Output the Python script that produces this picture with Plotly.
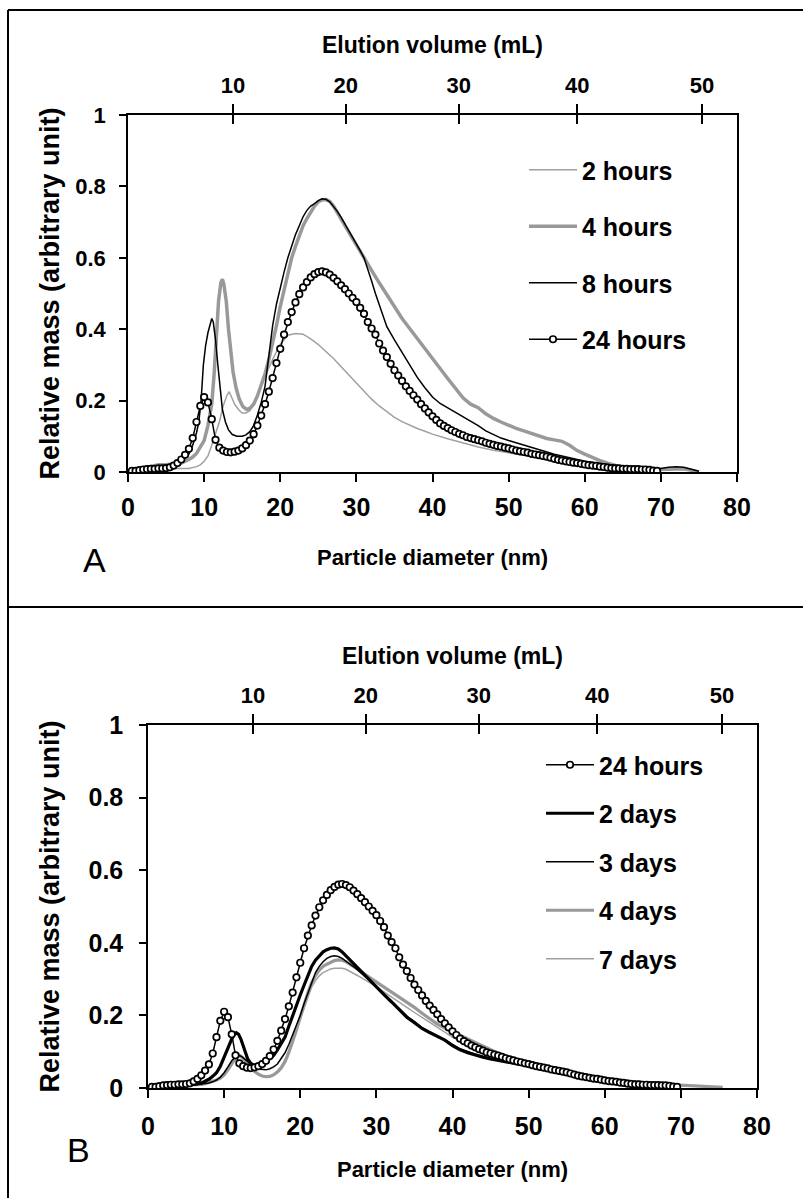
import plotly.graph_objects as go

# ---------------- data: particle diameter (nm) vs relative mass ----------------
# Panel A
D_2H = [1, 2, 3, 4, 5, 6, 7, 8, 9, 9.5, 10, 10.5, 11, 11.5, 12, 12.5, 13, 13.3, 13.7, 14, 14.5, 15, 15.5,
        16, 16.5, 17, 17.5, 18, 19, 20, 21, 22, 23, 24, 25, 26, 27, 28, 29, 30, 31, 32, 33, 34, 35, 36, 37,
        38, 39, 40, 42, 44, 46, 48, 50, 52, 54, 56, 58, 60, 62, 64, 66, 68]
V_2H = [0.005, 0.008, 0.01, 0.01, 0.01, 0.01, 0.01, 0.01, 0.015, 0.02, 0.03, 0.045, 0.075, 0.11, 0.14,
        0.185, 0.215, 0.225, 0.205, 0.19, 0.175, 0.165, 0.165, 0.172, 0.19, 0.212, 0.24, 0.267, 0.315,
        0.358, 0.383, 0.388, 0.386, 0.373, 0.357, 0.338, 0.318, 0.295, 0.272, 0.247, 0.225, 0.204, 0.185,
        0.168, 0.153, 0.141, 0.131, 0.122, 0.114, 0.106, 0.093, 0.081, 0.07, 0.061, 0.054, 0.046, 0.039,
        0.031, 0.025, 0.018, 0.013, 0.009, 0.007, 0.004]

D_4H = [1, 2, 3, 4, 5, 6, 7, 8, 8.5, 9, 9.5, 10, 10.5, 11, 11.3, 11.6, 11.9, 12.2, 12.4, 12.6, 12.9, 13.2,
        13.5, 13.8, 14.2, 14.6, 15.1, 15.6, 16, 16.5, 17, 17.5, 18, 18.5, 19, 19.5, 20, 20.5, 21, 21.5, 22,
        22.5, 23, 23.5, 24, 24.5, 25, 25.5, 26, 26.5, 27, 27.5, 28, 28.5, 29, 30, 31, 32, 33, 34, 35, 36,
        37, 38, 39, 40, 41, 42, 43, 44, 45, 46, 47, 48, 49, 50, 51, 52, 53, 54, 55, 56, 57, 58, 59, 60, 61,
        62, 63, 64, 65, 66, 67, 68, 69, 70, 71, 72, 73, 74, 75]
V_4H = [0.005, 0.01, 0.015, 0.02, 0.02, 0.022, 0.025, 0.035, 0.042, 0.052, 0.068, 0.088, 0.13, 0.19, 0.27,
        0.38, 0.48, 0.53, 0.54, 0.525, 0.48, 0.40, 0.33, 0.28, 0.235, 0.205, 0.183, 0.175, 0.178, 0.19,
        0.213, 0.242, 0.275, 0.315, 0.358, 0.41, 0.463, 0.51, 0.56, 0.6, 0.632, 0.663, 0.69, 0.71, 0.728,
        0.745, 0.757, 0.762, 0.763, 0.758, 0.745, 0.728, 0.708, 0.69, 0.672, 0.635, 0.6, 0.565, 0.53,
        0.496, 0.463, 0.43, 0.402, 0.373, 0.345, 0.318, 0.29, 0.262, 0.235, 0.208, 0.19, 0.18, 0.163,
        0.15, 0.14, 0.13, 0.122, 0.115, 0.108, 0.1, 0.094, 0.09, 0.086, 0.075, 0.06, 0.05, 0.04, 0.032,
        0.025, 0.018, 0.013, 0.009, 0.007, 0.006, 0.006, 0.007, 0.009, 0.01, 0.009, 0.005, 0.0]

D_8H = [1, 2, 3, 4, 5, 6, 7, 7.5, 8, 8.5, 9, 9.3, 9.6, 9.9, 10.2, 10.5, 10.8, 11.0, 11.2, 11.5, 11.8, 12.1,
        12.4, 12.8, 13.2, 13.7, 14.3, 15, 15.5, 16, 16.5, 17, 17.5, 18, 18.5, 19, 19.5, 20, 20.5, 21, 21.5,
        22, 22.5, 23, 23.5, 24, 24.5, 25, 25.5, 26, 26.5, 27, 27.5, 28, 28.5, 29, 29.5, 30, 30.5, 31, 31.5,
        32, 32.5, 33, 33.5, 34, 35, 36, 37, 38, 39, 40, 41, 42, 43, 44, 45, 46, 47, 48, 49, 50, 52, 54, 56,
        58, 60, 62, 64, 66, 68, 70, 71, 72, 73, 74, 75]
V_8H = [0.005, 0.008, 0.01, 0.012, 0.013, 0.018, 0.03, 0.04, 0.05, 0.075, 0.11, 0.14, 0.2, 0.3, 0.355,
        0.39, 0.42, 0.43, 0.42, 0.37, 0.3, 0.23, 0.175, 0.14, 0.118, 0.105, 0.1, 0.1, 0.104, 0.113, 0.13,
        0.16, 0.195, 0.24, 0.32, 0.41, 0.47, 0.52, 0.56, 0.6, 0.635, 0.665, 0.69, 0.715, 0.733, 0.745,
        0.752, 0.76, 0.765, 0.764, 0.757, 0.745, 0.73, 0.713, 0.695, 0.678, 0.66, 0.64, 0.62, 0.6, 0.57,
        0.535, 0.5, 0.47, 0.44, 0.407, 0.37, 0.335, 0.3, 0.265, 0.236, 0.21, 0.192, 0.18, 0.168, 0.155,
        0.143, 0.13, 0.115, 0.105, 0.095, 0.088, 0.075, 0.062, 0.05, 0.04, 0.03, 0.024, 0.018, 0.013,
        0.01, 0.01, 0.013, 0.015, 0.013, 0.007, 0.002]

# 24 hours (shared by both panels)
D_24H = [0.5, 1, 1.5, 2, 2.5, 3, 3.5, 4, 4.5, 5, 5.5, 6, 6.5, 7, 7.5, 8, 8.5, 9, 9.5, 10, 10.5, 11, 11.5,
         12, 12.5, 13, 13.5, 14, 14.5, 15, 15.5, 16, 16.5, 17, 17.5, 18, 18.5, 19, 19.5, 20, 20.5, 21, 21.5,
         22, 22.5, 23, 23.5, 24, 24.5, 25, 25.5, 26, 26.5, 27, 27.5, 28, 28.5, 29, 29.5, 30, 30.5, 31, 31.5,
         32, 32.5, 33, 33.5, 34, 34.5, 35, 35.5, 36, 36.5, 37, 37.5, 38, 38.5, 39, 39.5, 40, 40.5, 41, 41.5,
         42, 42.5, 43, 43.5, 44, 44.5, 45, 45.5, 46, 46.5, 47, 47.5, 48, 48.5, 49, 49.5, 50, 50.5, 51, 51.5,
         52, 52.5, 53, 53.5, 54, 54.5, 55, 55.5, 56, 56.5, 57, 57.5, 58, 58.5, 59, 59.5, 60, 60.5, 61, 61.5,
         62, 62.5, 63, 63.5, 64, 64.5, 65, 65.5, 66, 66.5, 67, 67.5, 68, 68.5, 69, 69.5]
V_24H = [0.003, 0.003, 0.005, 0.007, 0.008, 0.009, 0.009, 0.01, 0.01, 0.011, 0.013, 0.018, 0.025, 0.035,
         0.048, 0.065, 0.095, 0.14, 0.185, 0.21, 0.195, 0.148, 0.09, 0.068, 0.06, 0.056, 0.055, 0.057, 0.06,
         0.066, 0.075, 0.088, 0.106, 0.13, 0.158, 0.19, 0.225, 0.263, 0.305, 0.345, 0.385, 0.42, 0.448,
         0.475, 0.498, 0.517, 0.532, 0.545, 0.554, 0.56, 0.562, 0.559, 0.553, 0.544, 0.534, 0.523, 0.512,
         0.5, 0.488, 0.476, 0.46, 0.443, 0.42, 0.402, 0.385, 0.36, 0.34, 0.322, 0.303, 0.285, 0.27, 0.255,
         0.24, 0.227, 0.215, 0.203, 0.19, 0.178, 0.167, 0.156, 0.146, 0.136, 0.129, 0.123, 0.117, 0.112,
         0.107, 0.103, 0.098, 0.095, 0.092, 0.089, 0.086, 0.082, 0.079, 0.076, 0.073, 0.071, 0.068, 0.066,
         0.063, 0.06, 0.058, 0.056, 0.054, 0.051, 0.049, 0.047, 0.045, 0.043, 0.04, 0.037, 0.034, 0.032,
         0.03, 0.028, 0.026, 0.025, 0.023, 0.021, 0.019, 0.018, 0.017, 0.015, 0.014, 0.012, 0.011, 0.01,
         0.01, 0.009, 0.009, 0.008, 0.008, 0.008, 0.007, 0.007, 0.006, 0.004, 0.003]

# Panel B
D_2D = [1, 2, 3, 4, 5, 6, 7, 7.5, 8, 8.5, 9, 9.5, 10, 10.5, 11, 11.3, 11.6, 11.9, 12.2, 12.5, 12.8, 13.1,
        13.5, 14, 14.5, 15, 15.5, 16, 16.5, 17, 17.5, 18, 18.5, 19, 19.5, 20, 20.5, 21, 21.5, 22, 22.5, 23,
        23.5, 24, 24.5, 25, 25.5, 26, 26.5, 27, 27.5, 28, 28.5, 29, 29.5, 30, 31, 32, 33, 34, 35, 36, 37,
        38, 39, 40, 41, 42, 43, 44, 45, 46, 47, 48, 49, 50, 52, 54, 56, 58, 60, 62, 64, 66, 68, 69.5]
V_2D = [0.005, 0.006, 0.007, 0.007, 0.008, 0.01, 0.013, 0.018, 0.024, 0.032, 0.042, 0.06, 0.083, 0.11,
        0.135, 0.147, 0.152, 0.148, 0.135, 0.115, 0.096, 0.08, 0.068, 0.061, 0.06, 0.064, 0.072, 0.08, 0.09,
        0.105, 0.122, 0.14, 0.17, 0.2, 0.228, 0.256, 0.283, 0.31, 0.335, 0.352, 0.365, 0.375, 0.381, 0.385,
        0.386, 0.383, 0.375, 0.364, 0.355, 0.343, 0.332, 0.32, 0.31, 0.3, 0.29, 0.279, 0.257, 0.237, 0.215,
        0.195, 0.18, 0.164, 0.153, 0.142, 0.132, 0.117, 0.105, 0.097, 0.09, 0.085, 0.08, 0.076, 0.071,
        0.068, 0.064, 0.06, 0.052, 0.044, 0.036, 0.029, 0.023, 0.018, 0.014, 0.01, 0.006, 0.004]

D_3D = [1, 2, 3, 4, 5, 6, 7, 7.5, 8, 8.5, 9, 9.5, 10, 10.5, 11, 11.5, 11.9, 12.3, 12.7, 13, 13.5, 14, 14.5,
        15, 15.5, 16, 16.5, 17, 17.5, 18, 18.5, 19, 19.5, 20, 20.5, 21, 21.5, 22, 22.5, 23, 23.5, 24, 24.5,
        25, 25.5, 26, 26.5, 27, 27.5, 28, 28.5, 29, 30, 31, 32, 33, 34, 35, 36, 37, 38, 39, 40, 41, 42, 43,
        44, 45, 46, 47, 48, 49, 50, 52, 54, 56, 58, 60, 62, 64, 66, 68, 70]
V_3D = [0.005, 0.006, 0.007, 0.007, 0.007, 0.008, 0.01, 0.012, 0.014, 0.017, 0.022, 0.03, 0.042, 0.058,
        0.075, 0.086, 0.09, 0.087, 0.08, 0.073, 0.064, 0.056, 0.052, 0.05, 0.05, 0.053, 0.058, 0.066, 0.08,
        0.097, 0.12, 0.145, 0.17, 0.2, 0.232, 0.262, 0.29, 0.318, 0.335, 0.348, 0.357, 0.362, 0.364, 0.362,
        0.357, 0.35, 0.342, 0.334, 0.326, 0.316, 0.307, 0.298, 0.28, 0.26, 0.24, 0.218, 0.198, 0.182, 0.166,
        0.154, 0.143, 0.133, 0.12, 0.108, 0.1, 0.093, 0.087, 0.082, 0.077, 0.072, 0.068, 0.064, 0.06,
        0.052, 0.045, 0.037, 0.03, 0.024, 0.019, 0.015, 0.011, 0.007, 0.004]

D_4D = [1, 2, 3, 4, 5, 6, 7, 7.5, 8, 8.5, 9, 9.5, 10, 10.5, 11, 11.5, 12, 12.5, 13, 13.5, 14, 14.5, 15,
        15.5, 16, 16.5, 17, 17.5, 18, 18.5, 19, 19.5, 20, 20.5, 21, 21.5, 22, 22.5, 23, 23.5, 24, 24.5, 25,
        25.5, 26, 26.5, 27, 27.5, 28, 29, 30, 31, 32, 33, 34, 35, 36, 37, 38, 39, 40, 41, 42, 43, 44, 45,
        46, 47, 48, 49, 50, 52, 54, 56, 58, 60, 62, 64, 66, 68, 70, 72, 74, 75.5]
V_4D = [0.004, 0.005, 0.006, 0.006, 0.007, 0.008, 0.01, 0.012, 0.015, 0.018, 0.022, 0.027, 0.036, 0.05,
        0.066, 0.082, 0.09, 0.082, 0.068, 0.056, 0.046, 0.038, 0.033, 0.031, 0.032, 0.036, 0.044, 0.055,
        0.072, 0.098, 0.128, 0.16, 0.195, 0.23, 0.262, 0.29, 0.31, 0.325, 0.335, 0.341, 0.347, 0.351,
        0.353, 0.352, 0.348, 0.342, 0.335, 0.328, 0.32, 0.306, 0.293, 0.28, 0.266, 0.252, 0.238, 0.222,
        0.206, 0.19, 0.176, 0.165, 0.155, 0.145, 0.135, 0.125, 0.115, 0.105, 0.096, 0.088, 0.08, 0.072,
        0.065, 0.055, 0.047, 0.039, 0.032, 0.026, 0.021, 0.017, 0.013, 0.01, 0.008, 0.006, 0.004, 0.002]

D_7D = [1, 2, 3, 4, 5, 6, 7, 8, 9, 9.5, 10, 10.5, 11, 11.5, 12, 12.5, 13, 13.5, 14, 14.5, 15, 15.5, 16,
        16.5, 17, 17.5, 18, 18.5, 19, 19.5, 20, 20.5, 21, 21.5, 22, 22.5, 23, 23.5, 24, 24.5, 25, 25.5, 26,
        26.5, 27, 27.5, 28, 29, 30, 31, 32, 33, 34, 35, 36, 37, 38, 39, 40, 41, 42, 43, 44, 45, 46, 47, 48,
        49, 50, 52, 54, 56, 58, 60, 62, 64, 66, 68, 70, 72, 74, 75]
V_7D = [0.004, 0.005, 0.006, 0.006, 0.007, 0.008, 0.01, 0.014, 0.022, 0.03, 0.04, 0.055, 0.07, 0.083,
        0.088, 0.08, 0.066, 0.053, 0.043, 0.036, 0.032, 0.031, 0.033, 0.038, 0.047, 0.06, 0.078, 0.103,
        0.132, 0.162, 0.193, 0.225, 0.253, 0.278, 0.296, 0.309, 0.318, 0.324, 0.328, 0.33, 0.331, 0.33,
        0.327, 0.322, 0.316, 0.31, 0.304, 0.292, 0.279, 0.265, 0.25, 0.236, 0.222, 0.208, 0.194, 0.18,
        0.166, 0.153, 0.14, 0.128, 0.117, 0.107, 0.098, 0.09, 0.083, 0.077, 0.071, 0.066, 0.061, 0.053,
        0.045, 0.038, 0.032, 0.026, 0.021, 0.017, 0.013, 0.01, 0.007, 0.005, 0.003, 0.002]

# secondary (top) axis: elution volume ticks and where they fall on the diameter scale
ELUTION_ML = [10, 20, 30, 40, 50]
ELUTION_AT_NM = [13.8, 28.6, 43.45, 59.0, 75.4]

X_TICKS = [0, 10, 20, 30, 40, 50, 60, 70, 80]
Y_TICKS = [0, 0.2, 0.4, 0.6, 0.8, 1]
Y_TICK_TEXT = ["0", "0.2", "0.4", "0.6", "0.8", "1"]

# ---------------- styling ----------------
W, H = 803, 1198
FONT = "Liberation Sans, Arial, sans-serif"
GREY = "#a0a0a0"
GREY_THICK = "#999999"


def px_x(p):
    return p / W


def px_y(p):
    return 1 - p / H


fig = go.Figure()


def add_series(x, y, name, xa, ya, legend, rank, color, width, circles=False):
    kw = dict(x=x, y=y, name=name, xaxis=xa, yaxis=ya, legend=legend, legendgroup=f"{legend}-{name}",
              legendrank=rank, line=dict(color=color, width=width), hoverinfo="skip")
    if circles:
        kw.update(mode="lines+markers",
                  marker=dict(symbol="circle", size=6.5, color="white",
                              line=dict(color="black", width=1.7)))
    else:
        kw.update(mode="lines")
    fig.add_trace(go.Scatter(**kw))


# Panel A traces
add_series(D_2H, V_2H, "2 hours", "x", "y", "legend", 1, GREY, 1.5)
add_series(D_4H, V_4H, "4 hours", "x", "y", "legend", 2, GREY_THICK, 3.5)
add_series(D_8H, V_8H, "8 hours", "x", "y", "legend", 3, "black", 1.5)
add_series(D_24H, V_24H, "24 hours", "x", "y", "legend", 4, "black", 1.5, circles=True)

# Panel B traces
add_series(D_7D, V_7D, "7 days", "x4", "y2", "legend2", 5, GREY, 1.5)
add_series(D_4D, V_4D, "4 days", "x4", "y2", "legend2", 4, GREY_THICK, 3.2)
add_series(D_3D, V_3D, "3 days", "x4", "y2", "legend2", 3, "black", 1.5)
add_series(D_2D, V_2D, "2 days", "x4", "y2", "legend2", 2, "black", 3.2)
add_series(D_24H, V_24H, "24 hours", "x4", "y2", "legend2", 1, "black", 1.5, circles=True)

# the elution-volume axes need a trace bound to them to be rendered
for xa, ya in [("x2", "y"), ("x3", "y"), ("x5", "y2"), ("x6", "y2")]:
    fig.add_trace(go.Scatter(x=[0, 80], y=[0, 0], xaxis=xa, yaxis=ya, mode="markers",
                             marker=dict(opacity=0), showlegend=False, hoverinfo="skip"))


def bold(size):
    return dict(family=FONT, size=size, color="black", weight="bold")


common_x = dict(range=[0, 80], tickvals=X_TICKS, ticks="outside", ticklen=8, tickwidth=1.5,
                tickcolor="black", showline=True, linecolor="black", linewidth=1.5,
                showgrid=False, zeroline=False, tickfont=bold(25), automargin=False,
                fixedrange=True)
common_y = dict(range=[0, 1], tickvals=Y_TICKS, ticktext=Y_TICK_TEXT, ticks="outside", ticklen=7,
                tickwidth=1.5, tickcolor="black", showline=True, linecolor="black", linewidth=1.5,
                mirror=True, showgrid=False, zeroline=False, automargin=False, fixedrange=True)
top_out = dict(range=[0, 80], side="top", tickvals=ELUTION_AT_NM, ticktext=[str(v) for v in ELUTION_ML],
               ticks="outside", ticklen=9, tickwidth=1.5, tickcolor="black", showline=True,
               linecolor="black", linewidth=1.5, showgrid=False, zeroline=False,
               tickfont=bold(22), automargin=False, fixedrange=True)
top_in = dict(range=[0, 80], side="top", tickvals=ELUTION_AT_NM, ticks="inside", ticklen=9,
              tickwidth=1.5, tickcolor="black", showline=False, showticklabels=False,
              showgrid=False, zeroline=False, automargin=False, fixedrange=True)

dom_a_x = [px_x(128), px_x(737)]
dom_a_y = [px_y(472), px_y(115)]
dom_b_x = [px_x(148), px_x(757)]
dom_b_y = [px_y(1088), px_y(725)]

Y_TITLE = "Relative mass (arbitrary unit)"
X_TITLE = "Particle diameter (nm)"
E_TITLE = "Elution volume (mL)"

fig.update_layout(
    template="none",
    width=W, height=H,
    margin=dict(l=0, r=0, t=0, b=0, pad=0, autoexpand=False),
    paper_bgcolor="white", plot_bgcolor="white",
    font=dict(family=FONT, color="black"),
    showlegend=True,
    xaxis=dict(common_x, domain=dom_a_x, anchor="y", ticklabelstandoff=4,
               title=dict(text=X_TITLE, font=bold(22), standoff=30)),
    yaxis=dict(common_y, domain=dom_a_y, anchor="x", tickfont=bold(22), ticklabelstandoff=9,
               title=dict(text=Y_TITLE, font=bold(27), standoff=8)),
    xaxis2=dict(top_out, overlaying="x", anchor="y", ticklabelstandoff=2,
                title=dict(text=E_TITLE, font=bold(23), standoff=13)),
    xaxis3=dict(top_in, overlaying="x", anchor="y"),
    xaxis4=dict(common_x, domain=dom_b_x, anchor="y2", ticklabelstandoff=7,
                title=dict(text=X_TITLE, font=bold(22), standoff=23)),
    yaxis2=dict(common_y, domain=dom_b_y, anchor="x4", tickfont=bold(25), ticklabelstandoff=11,
                title=dict(text=Y_TITLE, font=bold(27), standoff=21)),
    xaxis5=dict(top_out, overlaying="x4", anchor="y2", ticklabelstandoff=2,
                title=dict(text=E_TITLE, font=bold(23), standoff=12)),
    xaxis6=dict(top_in, overlaying="x4", anchor="y2"),
    legend=dict(x=px_x(524), y=px_y(147), xanchor="left", yanchor="top", font=bold(25),
                itemwidth=48, bgcolor="rgba(0,0,0,0)", tracegroupgap=21, traceorder="grouped"),
    legend2=dict(x=px_x(541), y=px_y(742), xanchor="left", yanchor="top", font=bold(25),
                 itemwidth=48, bgcolor="rgba(0,0,0,0)", tracegroupgap=13, traceorder="grouped"),
)

# panel frames
frame = dict(type="line", xref="paper", yref="paper", line=dict(color="black", width=2))
fig.add_shape(frame, x0=px_x(8), x1=1, y0=px_y(10), y1=px_y(10))
fig.add_shape(frame, x0=px_x(8), x1=px_x(8), y0=px_y(10), y1=0)
fig.add_shape(frame, x0=px_x(8), x1=1, y0=px_y(607), y1=px_y(607))

# panel letters
for letter, (lx, ly) in {"A": (94, 560), "B": (78, 1150)}.items():
    fig.add_annotation(text=letter, x=px_x(lx), y=px_y(ly), xref="paper", yref="paper",
                       showarrow=False, xanchor="center", yanchor="middle",
                       font=dict(family=FONT, size=34, color="black"))

fig.write_html("out.html")
